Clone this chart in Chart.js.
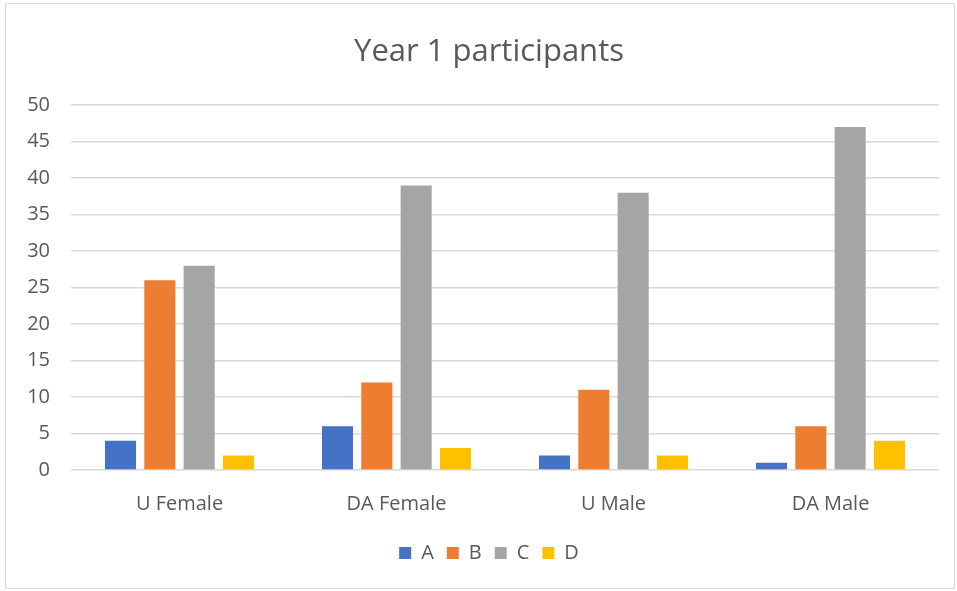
<!DOCTYPE html>
<html>
<head>
<meta charset="utf-8">
<script src="https://cdn.jsdelivr.net/npm/chart.js@4"></script>
<style>
  html, body { margin: 0; padding: 0; background: #fff; }
  #wrap { position: absolute; left: 5px; top: 3px; width: 950px; height: 586px; border: 1px solid #d9d9d9; box-sizing: border-box; }
  canvas { display: block; }
</style>
</head>
<body>
<div id="wrap"><canvas id="chart" width="948" height="584"></canvas></div>
<script>
const categories = ['U Female', 'DA Female', 'U Male', 'DA Male'];
const seriesA = [4, 6, 2, 1];
const seriesB = [26, 12, 11, 6];
const seriesC = [28, 39, 38, 47];
const seriesD = [2, 3, 2, 4];

const fontFamily = "'Open Sans', 'Liberation Sans', sans-serif";
const textColor = '#595959';

function makeSet(label, data, color) {
    return {
        label: label,
        data: data,
        backgroundColor: color,
        borderWidth: 0,
        categoryPercentage: 0.725,
        barPercentage: 0.79
    };
}

document.addEventListener('DOMContentLoaded', function () {
    const ctx = document.getElementById('chart').getContext('2d');
    new Chart(ctx, {
        type: 'bar',
        data: {
            labels: categories,
            datasets: [
                makeSet('A', seriesA, '#4472C4'),
                makeSet('B', seriesB, '#ED7D31'),
                makeSet('C', seriesC, '#A5A5A5'),
                makeSet('D', seriesD, '#FFC000')
            ]
        },
        options: {
            responsive: false,
            animation: false,
            layout: { padding: { left: 18, right: 0, top: 16, bottom: 15 } },
            plugins: {
                title: {
                    display: true,
                    text: 'Year 1 participants',
                    color: textColor,
                    font: { family: fontFamily, size: 31, weight: 'normal' },
                    padding: { top: 14, bottom: 34 }
                },
                legend: {
                    position: 'bottom',
                    labels: {
                        color: textColor,
                        font: { family: fontFamily, size: 20 },
                        boxWidth: 12,
                        boxHeight: 12,
                        padding: 13
                    }
                },
                tooltip: { enabled: false }
            },
            scales: {
                x: {
                    grid: { display: false },
                    border: { display: false },
                    ticks: { color: textColor, font: { family: fontFamily, size: 20 }, padding: 14 }
                },
                y: {
                    min: 0,
                    max: 50,
                    ticks: { stepSize: 5, color: textColor, font: { family: fontFamily, size: 20 }, padding: 21 },
                    grid: { color: '#d9d9d9', lineWidth: 1.5, drawTicks: false },
                    border: { display: false },
                    afterFit: function (axis) { axis.width = 47; }
                },
                // empty right axis, only keeps a margin on the right of the plot
                r: {
                    type: 'linear',
                    position: 'right',
                    ticks: { display: false },
                    grid: { display: false },
                    border: { display: false },
                    afterFit: function (axis) { axis.width = 15; }
                }
            }
        }
    });
});
</script>
</body>
</html>
